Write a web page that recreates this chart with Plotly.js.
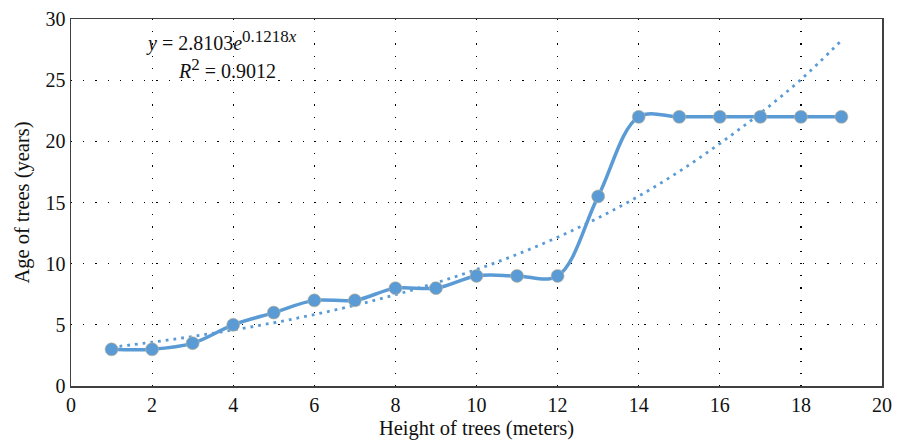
<!DOCTYPE html>
<html>
<head>
<meta charset="utf-8">
<script src="https://cdn.plot.ly/plotly-3.0.1.min.js"></script>
<style>html,body{margin:0;padding:0;background:#fff;}#chart{width:897px;height:447px;}</style>
</head>
<body>
<div id="chart"></div>
<script>
const heights = [1,2,3,4,5,6,7,8,9,10,11,12,13,14,15,16,17,18,19];
const ages = [3,3,3.5,5,6,7,7,8,8,9,9,9,15.5,22,22,22,22,22,22];
const trendAges = [3.17,3.58,4.05,4.58,5.17,5.84,6.60,7.46,8.43,9.52,10.76,12.16,13.74,15.52,17.54,19.82,22.30,25.05,28.25];
const xTicks = [0,2,4,6,8,10,12,14,16,18,20];
const yTicks = [0,5,10,15,20,25,30];

const blue = '#5B9BD5';
const font = 'Liberation Serif, Times New Roman, serif';

const traces = [
  {x: heights, y: trendAges, mode: 'lines', line: {color: blue, width: 2.8, dash: '2.8px,5px', shape: 'spline'}, hoverinfo: 'skip'},
  {x: heights, y: ages, mode: 'lines+markers', line: {color: blue, width: 3.5, shape: 'spline', smoothing: 1.0},
   marker: {color: blue, size: 13, line: {color: '#c9b48a', width: 0.6}}}
];

const axisCommon = {
  showline: true, mirror: true, linecolor: '#404040', linewidth: 1.5,
  showgrid: true, gridcolor: '#000', griddash: '1.2px,11px', gridwidth: 1.2,
  zeroline: false, ticks: '', tickfont: {family: font, size: 20, color: '#111'}
};

const layout = {
  width: 897, height: 447,
  margin: {l: 71, r: 15, t: 19, b: 61},
  paper_bgcolor: '#fff', plot_bgcolor: '#fff',
  showlegend: false,
  xaxis: Object.assign({}, axisCommon, {range: [0, 20], tickvals: xTicks, ticktext: xTicks.map(String),
    title: {text: 'Height of trees (meters)', font: {family: font, size: 20.5, color: '#111'}, standoff: 6}}),
  yaxis: Object.assign({}, axisCommon, {range: [0, 30], tickvals: yTicks, ticktext: yTicks.map(String),
    title: {text: 'Age of trees (years)', font: {family: font, size: 20.5, color: '#111'}, standoff: 10}}),
  annotations: [
    {xref: 'paper', yref: 'paper', x: 0.186, y: 0.94, xanchor: 'center', yanchor: 'middle', showarrow: false,
     text: '<i>y</i> = 2.8103<i>e</i><sup><span style="font-size:17px">0.1218<i>x</i></span></sup>', font: {family: font, size: 20, color: '#111'}},
    {xref: 'paper', yref: 'paper', x: 0.192, y: 0.866, xanchor: 'center', yanchor: 'middle', showarrow: false,
     text: '<i>R</i><sup><span style="font-size:17px">2</span></sup> = 0.9012', font: {family: font, size: 20, color: '#111'}}
  ]
};

Plotly.newPlot('chart', traces, layout, {displayModeBar: false, staticPlot: true});
</script>
</body>
</html>
